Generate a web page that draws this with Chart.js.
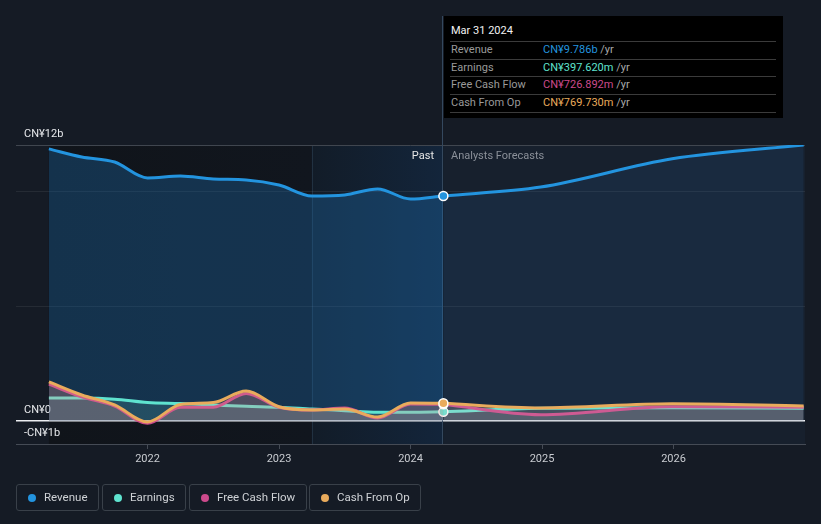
<!DOCTYPE html>
<html>
<head>
<meta charset="utf-8">
<script src="https://cdn.jsdelivr.net/npm/chart.js@4"></script>
<style>
  html, body { margin:0; padding:0; background:#151b25; }
  #wrap { position:relative; width:821px; height:524px; overflow:hidden; font-family: Roboto, "Noto Sans", sans-serif; }
  #c { position:absolute; left:0; top:0; }
  #tip { position:absolute; left:444px; top:16px; width:339px; height:102px; background:#000; }
  #tip .title { position:absolute; left:7px; top:8px; font-size:11px; line-height:14px; color:#f2f2f2; }
  #tip .row { position:absolute; left:6px; width:326px; height:17px; border-top:1px solid #3b3b3b; font-size:11px; line-height:16px; }
  #tip .row.last { border-bottom:1px solid #3b3b3b; }
  #tip .lab { position:absolute; left:1px; color:#9a9a9a; }
  #tip .val { position:absolute; left:93px; }
  #tip .unit { color:#a8a8a8; }
  .zone { position:absolute; top:149px; font-size:11px; line-height:14px; }
  #past { right:387px; color:#e6e6e6; }
  #fc { left:451px; color:#8b9099; }
  #legend { position:absolute; left:16px; top:484px; height:27px; }
  .lg { position:absolute; top:0; height:25px; border:1px solid #394049; border-radius:3px; font-size:11.5px; line-height:25px; color:#cfd2d6; }
  .lg i { position:absolute; left:11px; top:9px; width:8px; height:8px; border-radius:50%; }
  .lg span { position:absolute; left:27px; white-space:nowrap; }
</style>
</head>
<body>
<div id="wrap">
  <canvas id="c" width="821" height="524"></canvas>
  <div id="past" class="zone">Past</div>
  <div id="fc" class="zone">Analysts Forecasts</div>
  <div id="tip"></div>
  <div id="legend"></div>
</div>
<script>
// ---- data (CN¥ billions) ----
const xPast = [2021.25, 2021.5, 2021.75, 2022.0, 2022.25, 2022.5, 2022.75, 2023.0, 2023.25, 2023.5, 2023.75, 2024.0, 2024.25];
const revenuePast  = [11.83, 11.48, 11.26, 10.57, 10.65, 10.52, 10.48, 10.26, 9.78, 9.83, 10.09, 9.65, 9.786];
const earningsPast = [1.0, 1.0, 0.95, 0.8, 0.76, 0.7, 0.64, 0.6, 0.52, 0.45, 0.38, 0.38, 0.398];
const fcfPast      = [1.6, 1.05, 0.65, -0.1, 0.6, 0.6, 1.2, 0.6, 0.48, 0.56, 0.13, 0.74, 0.727];
const cfoPast      = [1.7, 1.13, 0.7, -0.04, 0.72, 0.8, 1.3, 0.62, 0.48, 0.52, 0.17, 0.78, 0.770];

const xForecast = [2024.25, 2024.99, 2025.99, 2026.99];
const revenueForecast  = [9.786, 10.17, 11.4, 12.0];
const earningsForecast = [0.398, 0.55, 0.58, 0.55];
const fcfForecast      = [0.727, 0.27, 0.62, 0.6];
const cfoForecast      = [0.770, 0.57, 0.75, 0.65];

const xTickValues = [2022, 2023, 2024, 2025, 2026];
const yTickValues = [-1, 0, 5, 10, 12];
const yTickLabels = ['-CN¥1b', 'CN¥0', '', '', 'CN¥12b'];

const seriesNames = ['Revenue', 'Earnings', 'Free Cash Flow', 'Cash From Op'];
const seriesColors = ['#2394df', '#5fe3cf', '#cc4a8c', '#e9ab5c'];
const tipDate = 'Mar 31 2024';
const tipValues = ['CN¥9.786b', 'CN¥397.620m', 'CN¥726.892m', 'CN¥769.730m'];

const pastStart = 2021.25, bandStart = 2023.25, nowX = 2024.25;

// ---- html parts ----
const tip = document.getElementById('tip');
let h = '<div class="title">' + tipDate + '</div>';
seriesNames.forEach((n, i) => {
  h += '<div class="row' + (i === 3 ? ' last' : '') + '" style="top:' + (25 + i * 17.5) + 'px"><span class="lab">' + n +
       '</span><span class="val"><span style="color:' + seriesColors[i] + '">' + tipValues[i] + '</span> <span class="unit">/yr</span></span></div>';
});
tip.innerHTML = h;

const lgPos = [[0, 81], [86, 82], [173, 116], [293, 110]];
const legend = document.getElementById('legend');
legend.innerHTML = seriesNames.map((n, i) =>
  '<div class="lg" style="left:' + lgPos[i][0] + 'px;width:' + lgPos[i][1] + 'px"><i style="background:' + seriesColors[i] + '"></i><span>' + n + '</span></div>'
).join('');

// ---- chart ----
const pts = (xs, ys) => xs.map((x, i) => ({ x, y: ys[i] }));
const lastR = (n) => (ctx) => ctx.dataIndex === n - 1 ? 4.5 : 0;

function ds(label, xs, ys, color, fill, past) {
  return {
    label, data: pts(xs, ys), borderColor: color, borderWidth: 3,
    backgroundColor: fill, fill: 'origin',
    cubicInterpolationMode: 'monotone',
    pointRadius: past ? lastR(xs.length) : 0,
    pointBackgroundColor: color, pointBorderColor: '#ffffff', pointBorderWidth: 1.5,
    pointHoverRadius: 0
  };
}

const bgPlugin = {
  id: 'bgzones',
  beforeDraw(chart) {
    const { ctx, chartArea: a, scales: { x } } = chart;
    ctx.save();
    const xp = x.getPixelForValue(pastStart), xb = x.getPixelForValue(bandStart), xn = x.getPixelForValue(nowX);
    let g = ctx.createLinearGradient(xp, 0, xb, 0);
    g.addColorStop(0, '#10141a'); g.addColorStop(1, '#11161e');
    ctx.fillStyle = g; ctx.fillRect(xp, a.top, xb - xp, a.bottom - a.top);
    g = ctx.createLinearGradient(xb, 0, xn, 0);
    g.addColorStop(0, '#121c28'); g.addColorStop(1, '#13253b');
    ctx.fillStyle = g; ctx.fillRect(xb, a.top, xn - xb, a.bottom - a.top);
    ctx.fillStyle = '#17202d'; ctx.fillRect(xn, a.top, a.right - xn, a.bottom - a.top);
    ctx.strokeStyle = 'rgba(80,110,140,0.25)'; ctx.lineWidth = 1;
    ctx.beginPath(); ctx.moveTo(Math.round(xb) + 0.5, a.top); ctx.lineTo(Math.round(xb) + 0.5, a.bottom); ctx.stroke();
    ctx.restore();
  },
  beforeDatasetsDraw(chart) {
    const { ctx, chartArea: a, scales: { x } } = chart;
    const xn = Math.round(x.getPixelForValue(nowX)) - 0.5;
    ctx.save();
    ctx.strokeStyle = '#34485e'; ctx.lineWidth = 1;
    ctx.beginPath(); ctx.moveTo(xn, 16); ctx.lineTo(xn, a.bottom); ctx.stroke();
    ctx.restore();
  }
};

new Chart(document.getElementById('c'), {
  type: 'line',
  data: {
    datasets: [
      ds('Cash From Op', xPast, cfoPast, seriesColors[3], 'rgba(235,190,140,0.15)', true),
      ds('Cash From Op F', xForecast, cfoForecast, seriesColors[3], 'rgba(220,210,200,0.12)', false),
      ds('Free Cash Flow', xPast, fcfPast, seriesColors[2], 'rgba(215,110,160,0.16)', true),
      ds('Free Cash Flow F', xForecast, fcfForecast, seriesColors[2], 'rgba(220,200,210,0.12)', false),
      ds('Earnings', xPast, earningsPast, seriesColors[1], 'rgba(120,225,210,0.16)', true),
      ds('Earnings F', xForecast, earningsForecast, seriesColors[1], 'rgba(200,210,220,0.13)', false),
      ds('Revenue', xPast, revenuePast, seriesColors[0], 'rgba(30,115,185,0.32)', true),
      ds('Revenue F', xForecast, revenueForecast, seriesColors[0], 'rgba(35,100,160,0.16)', false)
    ]
  },
  options: {
    responsive: false, animation: false, devicePixelRatio: 1,
    layout: { padding: { left: 16, right: 16, top: 145, bottom: 0 } },
    plugins: { legend: { display: false }, tooltip: { enabled: false } },
    events: [],
    scales: {
      x: {
        type: 'linear', min: 2021, max: 2027,
        afterBuildTicks: (s) => { s.ticks = xTickValues.map(v => ({ value: v })); },
        afterFit: (s) => { s.height = 80; },
        grid: { drawOnChartArea: false, tickLength: 5, tickColor: '#454b55' },
        border: { display: true, color: '#454b55', width: 1 },
        ticks: { color: '#c9ccd1', font: { family: 'Roboto', size: 11 }, padding: 4, callback: (v) => String(v), maxRotation: 0 }
      },
      y: {
        min: -1, max: 12,
        afterBuildTicks: (s) => { s.ticks = yTickValues.map(v => ({ value: v })); },
        afterFit: (s) => { s.width = 0; },
        border: { display: false },
        grid: {
          drawTicks: false,
          color: (c) => {
            const v = c.tick ? c.tick.value : null;
            if (v === 0) return '#eceef1';
            if (v === 12) return '#40464f';
            if (v === 5 || v === 10) return 'rgba(255,255,255,0.07)';
            return 'rgba(0,0,0,0)';
          },
          lineWidth: (c) => (c.tick && c.tick.value === 0) ? 1.5 : 1
        },
        ticks: {
          mirror: true, padding: 8, labelOffset: -11,
          color: '#e6e8eb', font: { family: 'Roboto', size: 11 },
          callback: (v) => { const i = yTickValues.indexOf(v); return i >= 0 ? yTickLabels[i] : ''; }
        }
      }
    }
  },
  plugins: [bgPlugin]
});
</script>
</body>
</html>
